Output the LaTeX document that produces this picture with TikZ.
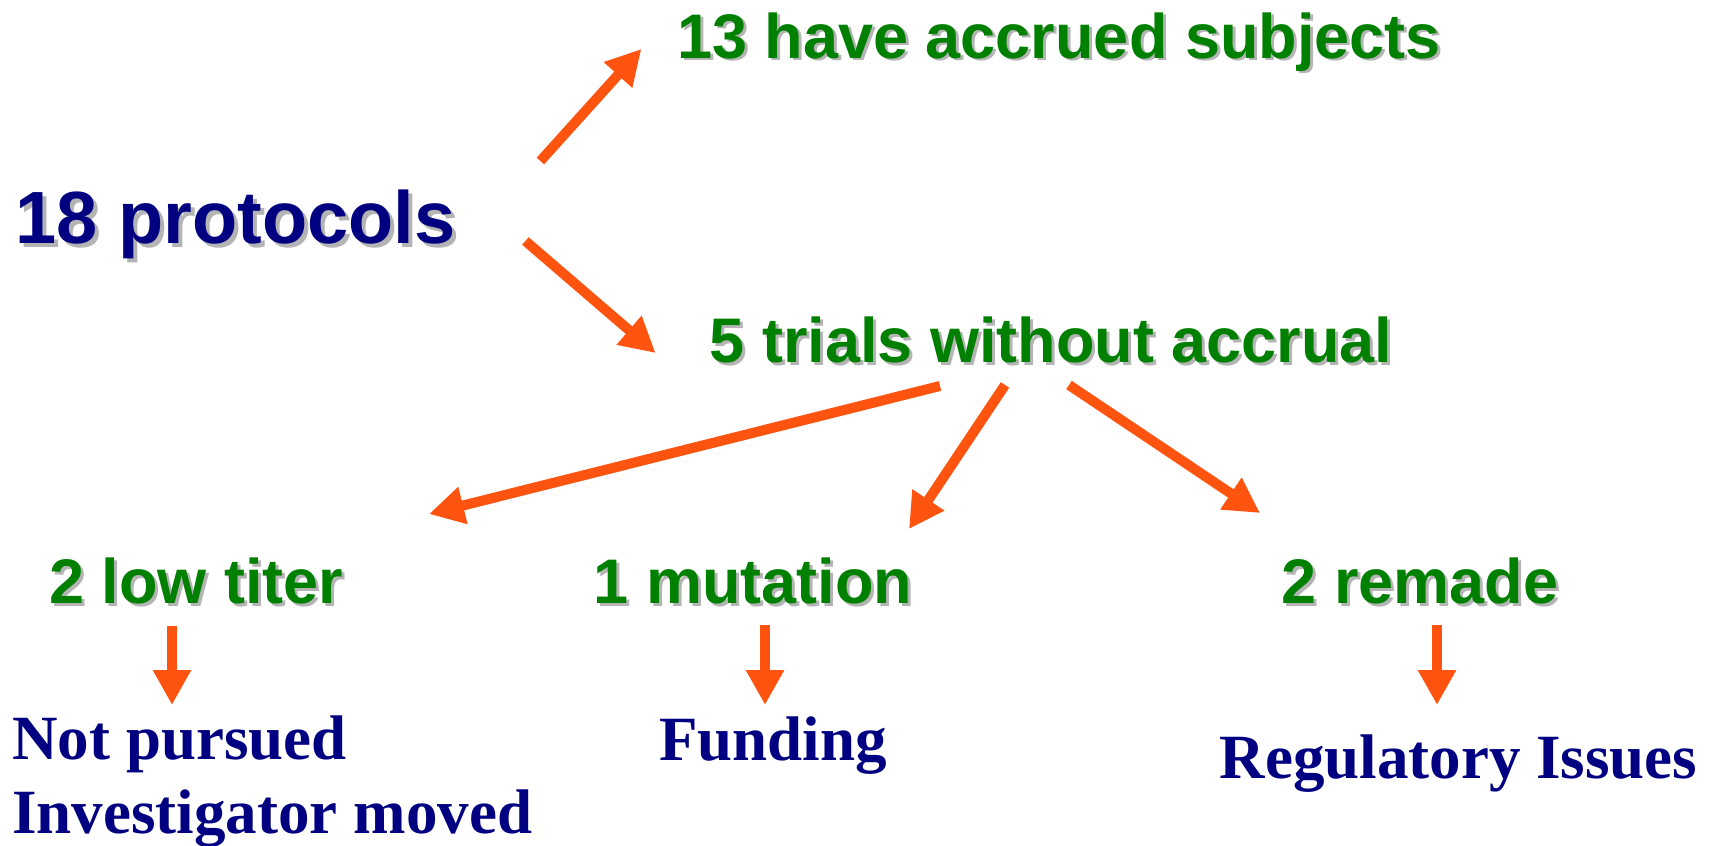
\documentclass[tikz,border=0pt]{standalone}
\usepackage{fontspec}
\setmainfont{Liberation Serif}
\setsansfont{Liberation Sans}
\usetikzlibrary{positioning,arrows.meta,calc}

\definecolor{navy}{HTML}{000080}
\definecolor{leafgreen}{HTML}{008000}
\definecolor{arroworange}{HTML}{FF5310}
\definecolor{shadowgray}{HTML}{B4B4B4}

\newcommand{\shadowed}[2][1.5pt]{\makebox[0pt][l]{\hspace{#1}\raisebox{-#1}{\color{shadowgray}#2}}#2}

\tikzset{
  head/.style={font=\sffamily\bfseries\fontsize{37pt}{44pt}\selectfont, text=navy, inner sep=0pt, anchor=base},
  branch/.style={font=\sffamily\bfseries\fontsize{31.5pt}{38pt}\selectfont, text=leafgreen, inner sep=0pt, anchor=base},
  reason/.style={font=\rmfamily\bfseries\fontsize{31.5pt}{38pt}\selectfont, text=navy, inner sep=0pt},
  flow/.style={draw=arroworange, line width=5pt, -{Triangle[length=17.5pt,width=18pt]}}
}

\begin{document}
\begin{tikzpicture}[x=0.5pt,y=-0.5pt]
  \useasboundingbox (0,0) rectangle (1721,846);

  % counts
  \node[head] (prot) at (235.5,243) {\shadowed[2pt]{18 protocols}};
  \node[branch] (acc) at (1059,58) {\shadowed{13 have accrued subjects}};
  \node[branch] (trials) at (1051,362) {\shadowed{5 trials without accrual}};
  \node[branch] (low) at (196.5,603) {\shadowed{2 low titer}};
  \node[branch] (mut) at (753,603) {\shadowed{1 mutation}};
  \node[branch] (remade) at (1420,603) {\shadowed{2 remade}};

  % reasons
  \node[reason, anchor=base west] (notp) at (12,759) {Not pursued};
  \node[reason, anchor=base west] (inv) at (12,833) {Investigator moved};
  \node[reason, anchor=base] (fund) at (773,760) {Funding};
  \node[reason, anchor=base] (reg) at (1458.5,778) {Regulatory Issues};

  \draw[flow] ($(prot.base east)+(84.5,-82)$) -- ($(acc.base west)+(-35.5,-9)$);
  \draw[flow] ($(prot.base east)+(69.5,-2)$) -- ($(trials.base west)+(-53.7,-9)$);
  \draw[flow] ($(trials.base)+(-111,24)$) -- ($(low.base)+(232.5,-89)$);
  \draw[flow] ($(trials.base)+(-46,23)$) -- ($(mut.base)+(156,-74)$);
  \draw[flow] ($(trials.base)+(18,23)$) -- ($(remade.base)+(-160,-90)$);

  \draw[flow] ($(low.base)+(-24.5,23)$) -- ($(notp.base west)+(160,-54)$);
  \draw[flow] ($(mut.base)+(12,22)$) -- ($(fund.base)+(-8,-55)$);
  \draw[flow] ($(remade.base)+(17,22)$) -- ($(reg.base)+(-21.5,-73)$);
\end{tikzpicture}
\end{document}
